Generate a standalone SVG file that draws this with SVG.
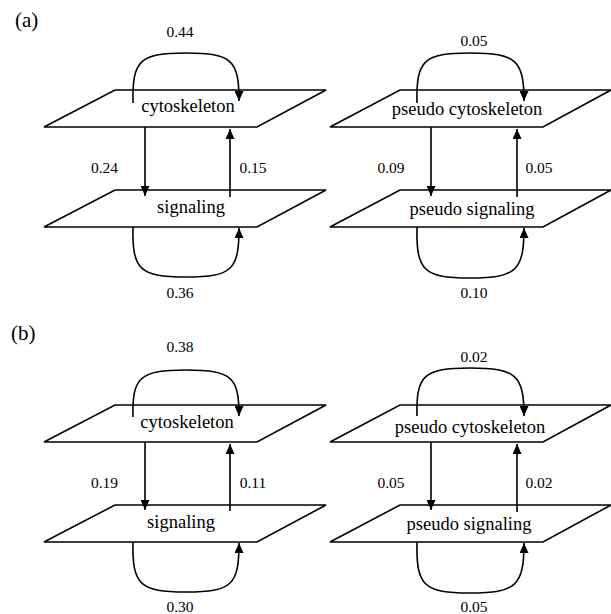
<svg xmlns="http://www.w3.org/2000/svg" width="611" height="614" viewBox="0 0 611 614">
<style>
.plane{fill:#fff;stroke:#000;stroke-width:1.6;stroke-linejoin:miter}
.lbl{font-family:"Liberation Serif","Times New Roman",serif;font-size:18.5px;fill:#000;text-anchor:middle}
.num{font-family:"Liberation Serif","Times New Roman",serif;font-size:15.5px;fill:#000;text-anchor:middle}
.tag{font-family:"Liberation Serif","Times New Roman",serif;font-size:21px;fill:#000}
.edge{fill:none;stroke:#000;stroke-width:1.6;marker-end:url(#arr)}
</style>
<defs>
<marker id="arr" markerUnits="userSpaceOnUse" markerWidth="11" markerHeight="9" refX="10" refY="4.5" orient="auto" viewBox="0 0 11 9">
<path d="M0,0 L10,4.5 L0,9 Z" fill="#000"/>
</marker>
</defs>
<rect width="611" height="614" fill="#fff"/>
<text class="tag" x="15" y="27">(a)</text>
<text class="tag" x="11" y="340">(b)</text>

<!-- panel a left -->
<g id="a-cytoskeleton"><path class="plane" d="M115,90 L326,90 L257,127 L44,127 Z"/><text class="lbl" x="188" y="112">cytoskeleton</text></g>
<g id="a-signaling"><path class="plane" d="M115,190 L326,190 L257,227 L44,227 Z"/><text class="lbl" x="191" y="213">signaling</text></g>
<!-- panel a right -->
<g id="a-pseudo-cytoskeleton"><path class="plane" d="M400,90 L611,90 L543,127 L330,127 Z"/><text class="lbl" x="467" y="115">pseudo cytoskeleton</text></g>
<g id="a-pseudo-signaling"><path class="plane" d="M400,190 L611,190 L543,227 L330,227 Z"/><text class="lbl" x="472" y="215">pseudo signaling</text></g>
<!-- panel b left -->
<g id="b-cytoskeleton"><path class="plane" d="M115,405 L326,405 L257,442 L44,442 Z"/><text class="lbl" x="187" y="428">cytoskeleton</text></g>
<g id="b-signaling"><path class="plane" d="M115,505 L326,505 L257,542 L44,542 Z"/><text class="lbl" x="181" y="528">signaling</text></g>
<!-- panel b right -->
<g id="b-pseudo-cytoskeleton"><path class="plane" d="M400,405 L611,405 L543,442 L330,442 Z"/><text class="lbl" x="470" y="433">pseudo cytoskeleton</text></g>
<g id="b-pseudo-signaling"><path class="plane" d="M400,505 L611,505 L543,542 L330,542 Z"/><text class="lbl" x="469" y="530">pseudo signaling</text></g>

<g id="connectors">
<!-- a left -->
<path class="edge" d="M133,103 C132,60 140,53 186,53 C232,53 239,60 239,101"/>
<path class="edge" d="M145,127 L145,196"/>
<path class="edge" d="M230,197 L230,129"/>
<path class="edge" d="M133,227 C132,270 140,277 186,277 C232,277 239,270 239,228"/>
<!-- a right -->
<path class="edge" d="M417,103 C416,60 424,53 470,53 C516,53 524,60 524,101"/>
<path class="edge" d="M431,127 L431,196"/>
<path class="edge" d="M517,197 L517,129"/>
<path class="edge" d="M417,227 C416,271 424,278 470,278 C516,278 524,271 524,228"/>
<!-- b left -->
<path class="edge" d="M133,417 C132,377 140,370 186,370 C232,370 239,377 239,416"/>
<path class="edge" d="M145,442 L145,510"/>
<path class="edge" d="M230,511 L230,444"/>
<path class="edge" d="M133,542 C132,585 140,592 186,592 C232,592 239,585 239,543"/>
<!-- b right -->
<path class="edge" d="M417,416 C416,375 424,368 470,368 C516,368 524,375 524,416"/>
<path class="edge" d="M431,442 L431,510"/>
<path class="edge" d="M517,512 L517,444"/>
<path class="edge" d="M417,542 C416,586 424,593 470,593 C516,593 524,586 524,543"/>
</g>

<g id="edge-labels">
<text class="num" x="180" y="37">0.44</text>
<text class="num" x="104.5" y="173">0.24</text>
<text class="num" x="253" y="173">0.15</text>
<text class="num" x="180" y="298">0.36</text>
<text class="num" x="474" y="46">0.05</text>
<text class="num" x="391" y="173">0.09</text>
<text class="num" x="539" y="173">0.05</text>
<text class="num" x="474" y="298">0.10</text>
<text class="num" x="180" y="352">0.38</text>
<text class="num" x="104.5" y="488">0.19</text>
<text class="num" x="253" y="488">0.11</text>
<text class="num" x="180" y="612">0.30</text>
<text class="num" x="474" y="362">0.02</text>
<text class="num" x="391" y="488">0.05</text>
<text class="num" x="539" y="488">0.02</text>
<text class="num" x="474" y="612">0.05</text>
</g>
</svg>
